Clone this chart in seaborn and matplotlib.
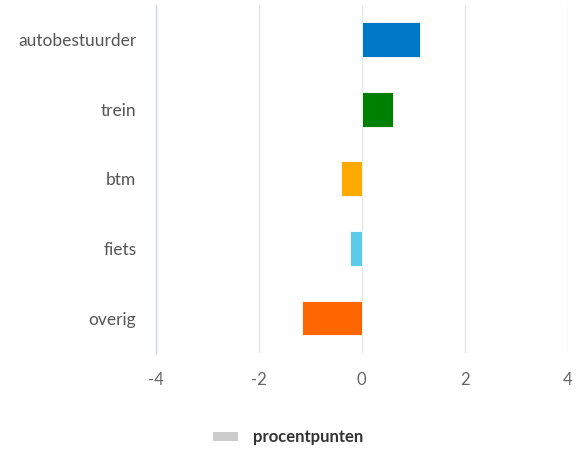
import numpy as np
import pandas as pd
import matplotlib.pyplot as plt
import seaborn as sns
from matplotlib.patches import Patch

# Data
categories = ["autobestuurder", "trein", "btm", "fiets", "overig"]
values = [1.14, 0.60, -0.40, -0.23, -1.17]
colors = ["#0078c8", "#008000", "#ffaa00", "#5bcbeb", "#ff6600"]
x_ticks = [-4, -2, 0, 2, 4]

df = pd.DataFrame({"categorie": categories, "waarde": values})

sns.set_style("white")
plt.rcParams["font.family"] = ["Lato", "DejaVu Sans"]

fig = plt.figure(figsize=(5.77, 4.5), dpi=100)
ax = fig.add_axes([0.270, 0.216, 0.714, 0.773])

sns.barplot(data=df, x="waarde", y="categorie", hue="categorie",
            palette=colors, saturation=1, orient="h", width=0.5,
            legend=False, ax=ax, edgecolor="white", linewidth=0.6, zorder=3)

ax.set_xlim(-4, 4)
ax.set_ylim(4.5, -0.5)
ax.set_xticks(x_ticks)
ax.set_xticklabels([str(t) for t in x_ticks])
ax.grid(axis="x", color="#e6e6e6", linewidth=1, zorder=0)
ax.grid(axis="y", visible=False)
for s in ["top", "right", "bottom"]:
    ax.spines[s].set_visible(False)
ax.spines["left"].set_color("#ccd6eb")
ax.spines["left"].set_linewidth(1)
ax.tick_params(axis="x", length=0, pad=14, labelsize=12, labelcolor="#666666")
ax.tick_params(axis="y", length=0, pad=14, labelsize=12.5, labelcolor="#555555")
ax.set_xlabel("")
ax.set_ylabel("")

handle = Patch(facecolor="#cccccc", edgecolor="none")
fig.legend(handles=[handle], labels=["procentpunten"], loc="center",
           bbox_to_anchor=(0.50, 0.028), frameon=False, handlelength=1.5,
           handleheight=0.4, handletextpad=0.9,
           prop={"weight": "bold", "size": 12})
for t in fig.legends[0].get_texts():
    t.set_color("#333333")

fig.savefig("out.png", dpi=100)
